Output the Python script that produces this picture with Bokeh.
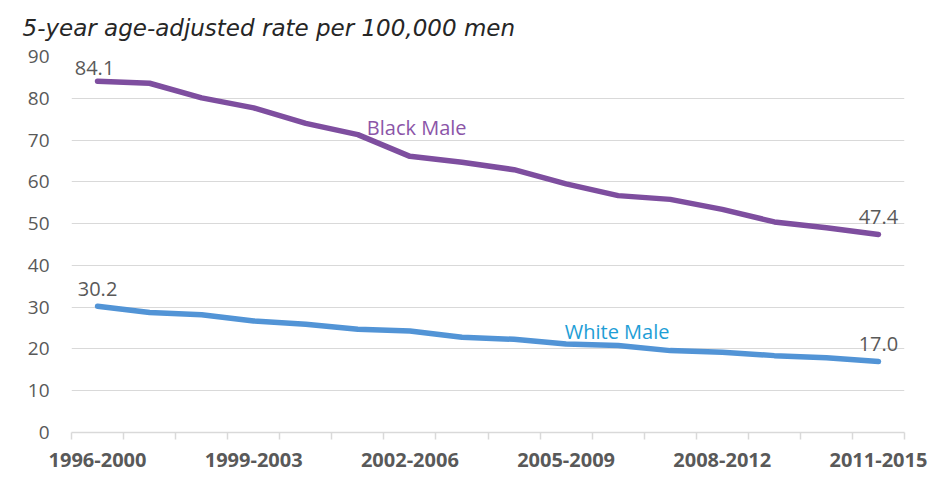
from bokeh.plotting import figure
from bokeh.models import FixedTicker, Range1d, Label, ColumnDataSource
from bokeh.embed import file_html
from bokeh.resources import INLINE
from bokeh.core.properties import value

periods = ["1996-2000", "1997-2001", "1998-2002", "1999-2003", "2000-2004",
           "2001-2005", "2002-2006", "2003-2007", "2004-2008", "2005-2009",
           "2006-2010", "2007-2011", "2008-2012", "2009-2013", "2010-2014",
           "2011-2015"]
black_male = [84.1, 83.6, 80.1, 77.7, 74.0, 71.3, 66.1, 64.7, 62.9, 59.5,
              56.7, 55.8, 53.4, 50.4, 49.0, 47.4]
white_male = [30.2, 28.7, 28.2, 26.7, 25.9, 24.7, 24.3, 22.8, 22.3, 21.2,
              20.8, 19.6, 19.2, 18.4, 17.9, 17.0]
y_ticks = [0, 10, 20, 30, 40, 50, 60, 70, 80, 90]
shown_labels = ["1996-2000", "1999-2003", "2002-2006", "2005-2009", "2008-2012", "2011-2015"]
title_text = "5-year age-adjusted rate per 100,000 men"

FONT = "Open Sans"
GREY = "#595959"
BLACK_LINE = "#7E4E9F"
BLACK_TEXT = "#8B55A8"
WHITE_LINE = "#5294D6"
WHITE_TEXT = "#1E9ED6"

xs = list(range(len(periods)))

p = figure(width=929, height=476, output_backend="svg", toolbar_location=None,
           title=title_text,
           x_range=Range1d(-0.5, len(periods) - 0.5), y_range=Range1d(0, 90),
           min_border_left=71, min_border_right=25, min_border_top=0,
           min_border_bottom=44, outline_line_color=None)

p.title.text_font = "DejaVu Sans"
p.title.text_font_style = "italic"
p.title.text_font_size = "23px"
p.title.text_color = "#262626"
p.title.align = "left"
p.title.vertical_align = "top"
p.title.offset = -49
p.title.standoff = 28

# grid
p.xgrid.grid_line_color = None
p.ygrid.grid_line_color = "#D9D9D9"
p.ygrid.grid_line_width = 1

# y axis
p.yaxis.ticker = FixedTicker(ticks=y_ticks)
p.yaxis.axis_line_color = None
p.yaxis.major_tick_line_color = None
p.yaxis.minor_tick_line_color = None
p.yaxis.major_tick_out = 0
p.yaxis.major_tick_in = 0
p.yaxis.major_label_standoff = 22
p.yaxis.major_label_text_font = FONT
p.yaxis.major_label_text_font_size = "19px"
p.yaxis.major_label_text_color = GREY

# x axis
shown_idx = [periods.index(s) for s in shown_labels]
p.xaxis.ticker = FixedTicker(ticks=shown_idx,
                             minor_ticks=[i - 0.5 for i in range(len(periods) + 1)])
p.xaxis.major_label_overrides = {i: periods[i] for i in shown_idx}
p.xaxis.axis_line_color = "#D9D9D9"
p.xaxis.axis_line_width = 1.5
p.xaxis.major_tick_line_color = None
p.xaxis.major_tick_out = 0
p.xaxis.major_tick_in = 0
p.xaxis.minor_tick_line_color = "#D9D9D9"
p.xaxis.minor_tick_line_width = 1.5
p.xaxis.minor_tick_out = 7
p.xaxis.minor_tick_in = 0
p.xaxis.major_label_standoff = 13
p.xaxis.major_label_text_font = FONT
p.xaxis.major_label_text_font_style = "bold"
p.xaxis.major_label_text_font_size = "20px"
p.xaxis.major_label_text_color = GREY

# lines
p.line(xs, black_male, line_color=BLACK_LINE, line_width=5.5, line_cap="round", line_join="round")
p.line(xs, white_male, line_color=WHITE_LINE, line_width=5.5, line_cap="round", line_join="round")

# end value labels
last = len(periods) - 1
first_src = ColumnDataSource(dict(x=[0], y=[black_male[0]], text=["%.1f" % black_male[0]]))
p.text(x="x", y="y", text="text", source=first_src, text_align="center",
       text_baseline="alphabetic", x_offset=-3, y_offset=-13, text_font=value(FONT),
       text_font_size="20px", text_color=GREY)
lab_src = ColumnDataSource(dict(
    x=[last, 0, last],
    y=[black_male[last], white_male[0], white_male[last]],
    text=["%.1f" % v for v in (black_male[last], white_male[0], white_male[last])],
))
p.text(x="x", y="y", text="text", source=lab_src, text_align="center",
       text_baseline="alphabetic", y_offset=-17, text_font=value(FONT),
       text_font_size="20px", text_color=GREY)

# series labels
p.add_layout(Label(x=6.13, y=73.0, text="Black Male", text_align="center",
                   text_baseline="alphabetic", text_font=FONT, text_font_size="20px",
                   text_color=BLACK_TEXT))
p.add_layout(Label(x=9.98, y=24.2, text="White Male", text_align="center",
                   text_baseline="alphabetic", text_font=FONT, text_font_size="20px",
                   text_color=WHITE_TEXT))

open("out.html", "w").write(file_html(p, INLINE))
